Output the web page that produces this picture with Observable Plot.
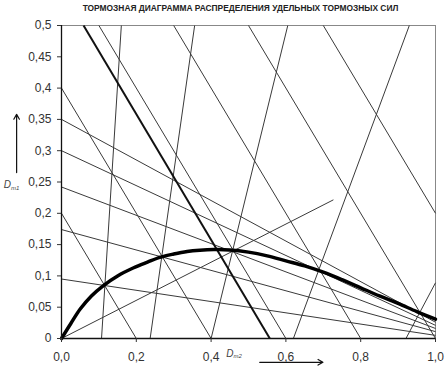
<!DOCTYPE html>
<html>
<head>
<meta charset="utf-8">
<script src="https://cdn.jsdelivr.net/npm/d3@7"></script>
<script src="https://cdn.jsdelivr.net/npm/@observablehq/plot@0.6"></script>
<style>
  html, body { margin: 0; padding: 0; background: #fff; }
  #wrap { position: relative; width: 448px; height: 369px; overflow: hidden; }
  #title { position: absolute; top: 3px; left: 0; width: 481px; text-align: center;
           font: bold 8.4px "Liberation Sans", Arial, sans-serif; color: #222; letter-spacing: 0px; }
  #chart { position: absolute; top: 0; left: 0; }
</style>
</head>
<body>
<div id="wrap">
  <div id="chart"></div>
  <div id="title">ТОРМОЗНАЯ ДИАГРАММА РАСПРЕДЕЛЕНИЯ УДЕЛЬНЫХ ТОРМОЗНЫХ СИЛ</div>
</div>
<script>
// ---- data ----
const xTicks = [0, 0.2, 0.4, 0.6, 0.8, 1.0];
const yTicks = [0, 0.05, 0.1, 0.15, 0.2, 0.25, 0.3, 0.35, 0.4, 0.45, 0.5];

// lines of equal total deceleration (descending, slope -1)
const zLineStart = [[0, 0.2], [0, 0.4], [0.1, 0.5], [0.3, 0.5], [0.5, 0.5], [0.7, 0.5]];
const zLineEnd   = [[0.2, 0], [0.4, 0], [0.6, 0], [0.8, 0], [1.0, 0], [1.0, 0.2]];

// front-axle lock lines (steep, rising)
const frontStart = [[0.107, 0], [0.237, 0], [0.40, 0], [0.62, 0], [0.921, 0]];
const frontEnd   = [[0.16, 0.5], [0.356, 0.5], [0.605, 0.5], [0.93, 0.5], [1.0, 0.089]];

// rear-axle lock lines (fan from the y axis)
const rearStart = [[0, 0.095], [0, 0.174], [0, 0.242], [0, 0.30], [0, 0.35]];
const rearEnd   = [[1.0, 0.005], [1.0, 0.011], [1.0, 0.016], [1.0, 0.021], [1.0, 0.026]];

// actual distribution ray
const betaStart = [[0, 0]];
const betaEnd   = [[0.727, 0.2215]];

// thick straight line
const thickStart = [[0.059, 0.5]];
const thickEnd   = [[0.557, 0]];

// ideal distribution curve
const curveX = [0, 0.025, 0.05, 0.08, 0.113, 0.15, 0.193, 0.23, 0.265, 0.3, 0.336, 0.37, 0.407, 0.45, 0.5, 0.55, 0.6, 0.65, 0.7, 0.75, 0.8, 0.85, 0.9, 0.95, 1.0];
const curveY = [0, 0.024, 0.047, 0.068, 0.085, 0.1, 0.113, 0.122, 0.13, 0.135, 0.139, 0.141, 0.142, 0.1415, 0.138, 0.132, 0.124, 0.116, 0.106, 0.094, 0.081, 0.068, 0.056, 0.043, 0.031];

// axis labels / arrows (annotation positions in data units)
const xLabelPos = [0.46, -0.024];
const yLabelPos = [-0.135, 0.245];
const xArrow = [[0.53, -0.038], [0.699, -0.038]];
const yArrow = [[-0.12, 0.265], [-0.12, 0.358]];

// ---- build tables ----
const seg = (s, e) => s.map((p, i) => ({x1: p[0], y1: p[1], x2: e[i][0], y2: e[i][1]}));
const thinSegs = [...seg(zLineStart, zLineEnd), ...seg(frontStart, frontEnd), ...seg(rearStart, rearEnd), ...seg(betaStart, betaEnd)];
const thickSegs = seg(thickStart, thickEnd);
const curve = curveX.map((x, i) => ({x, y: curveY[i]}));
const fmtX = d => d.toFixed(1).replace(".", ",");
const fmtY = d => d === 0 ? "0" : String(+d.toFixed(2)).replace(".", ",");

const chart = Plot.plot({
  width: 448,
  height: 369,
  marginLeft: 61,
  marginRight: 13,
  marginTop: 25,
  marginBottom: 31,
  style: {fontFamily: "'Liberation Sans', Arial, sans-serif", fontSize: "12px", background: "#fff", overflow: "visible"},
  x: {domain: [0, 1]},
  y: {domain: [0, 0.5]},
  marks: [
    Plot.frame({stroke: "#888", strokeWidth: 1}),
    Plot.link(thinSegs, {x1: "x1", y1: "y1", x2: "x2", y2: "y2", stroke: "#3a3a3a", strokeWidth: 1}),
    Plot.link(thickSegs, {x1: "x1", y1: "y1", x2: "x2", y2: "y2", stroke: "#111", strokeWidth: 2}),
    Plot.line(curve, {x: "x", y: "y", curve: "catmull-rom", stroke: "#000", strokeWidth: 3.5}),
    Plot.ruleX([0], {stroke: "#111", strokeWidth: 1.3}),
    Plot.ruleY([0], {stroke: "#111", strokeWidth: 1.3}),
    Plot.axisY({ticks: yTicks, tickFormat: fmtY, tickSize: 4, tickPadding: 6, label: null, fill: "#333", stroke: "#333"}),
    Plot.axisX({ticks: xTicks, tickFormat: fmtX, tickSize: 4, tickPadding: 10, label: null, fill: "#333", stroke: "#333"}),
    Plot.text([xLabelPos], {x: d => d[0], y: d => d[1], text: () => "D", fontStyle: "italic", fontSize: 10, fill: "#444", textAnchor: "end", clip: false}),
    Plot.text([xLabelPos], {x: d => d[0], y: d => d[1], text: () => "т2", fontStyle: "italic", fontSize: 6, fill: "#444", textAnchor: "start", dy: 3, clip: false}),
    Plot.text([yLabelPos], {x: d => d[0], y: d => d[1], text: () => "D", fontStyle: "italic", fontSize: 10, fill: "#444", textAnchor: "end", clip: false}),
    Plot.text([yLabelPos], {x: d => d[0], y: d => d[1], text: () => "т1", fontStyle: "italic", fontSize: 6, fill: "#444", textAnchor: "start", dy: 3, clip: false}),
    Plot.arrow([xArrow], {x1: d => d[0][0], y1: d => d[0][1], x2: d => d[1][0], y2: d => d[1][1], stroke: "#111", strokeWidth: 1.2, headLength: 7, clip: false}),
    Plot.arrow([yArrow], {x1: d => d[0][0], y1: d => d[0][1], x2: d => d[1][0], y2: d => d[1][1], stroke: "#111", strokeWidth: 1.2, headLength: 7, clip: false})
  ]
});
document.getElementById("chart").append(chart);
</script>
</body>
</html>
